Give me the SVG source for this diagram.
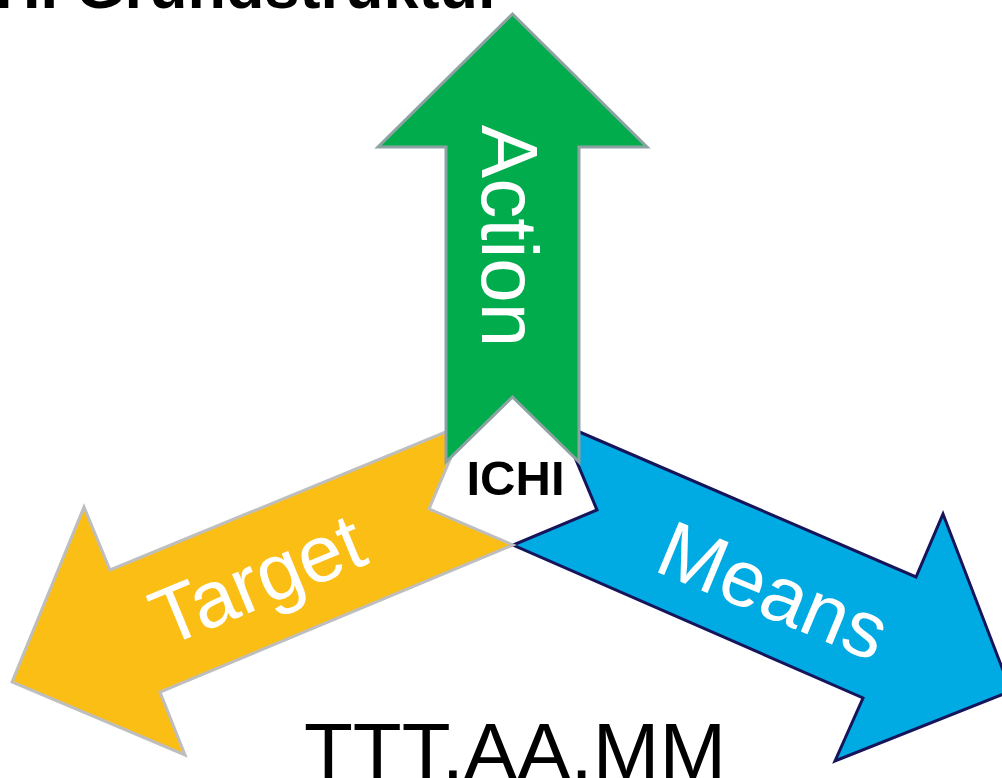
<svg xmlns="http://www.w3.org/2000/svg" width="1002" height="778" viewBox="0 0 1002 778">
  <style>
    .arrow { stroke-width: 3; stroke-linejoin: miter; }
    .means { fill: #00AAE2; stroke: #16145A; }
    .target { fill: #FBBE15; stroke: #BEBEBE; }
    .action { fill: #00AC4B; stroke: #8DA3A3; }
    .lbl { font-family: "Liberation Sans", Arial, sans-serif; font-size: 80px; fill: #FFFFFF; text-anchor: middle; }
    .blk { font-family: "Liberation Sans", Arial, sans-serif; fill: #000000; }
  </style>
  <rect x="0" y="0" width="1002" height="778" fill="#FFFFFF"/>
  <g id="title">
    <text class="blk" x="-68" y="8" font-size="63" font-weight="bold">ICHI Grundstruktur</text>
  </g>
  <g id="means">
    <polygon class="arrow means" points="561,424 916,577 943,514 1011,691 835,761 863,698 513,545 597,510"/>
    <text class="lbl" transform="translate(763,616) rotate(22.5)">Means</text>
  </g>
  <g id="target">
    <polygon class="arrow target" points="12,682 84,507 110,570 465,424 429,509 513,545 160,692 185,755"/>
    <text class="lbl" transform="translate(268,605) rotate(-22.5)">Target</text>
  </g>
  <g id="action">
    <polygon class="arrow action" points="512.5,14 647,147 579,147 579,462 512.5,397 446,462 446,147 378,147"/>
    <text class="lbl" transform="translate(482,236) rotate(90)">Action</text>
  </g>
  <g id="ichi">
    <text class="blk" x="515.5" y="495" font-size="49" font-weight="bold" text-anchor="middle">ICHI</text>
  </g>
  <g id="code">
    <text class="blk" x="515" y="779" font-size="80" text-anchor="middle">TTT.AA.MM</text>
  </g>
  <g id="connectors"/>
</svg>
